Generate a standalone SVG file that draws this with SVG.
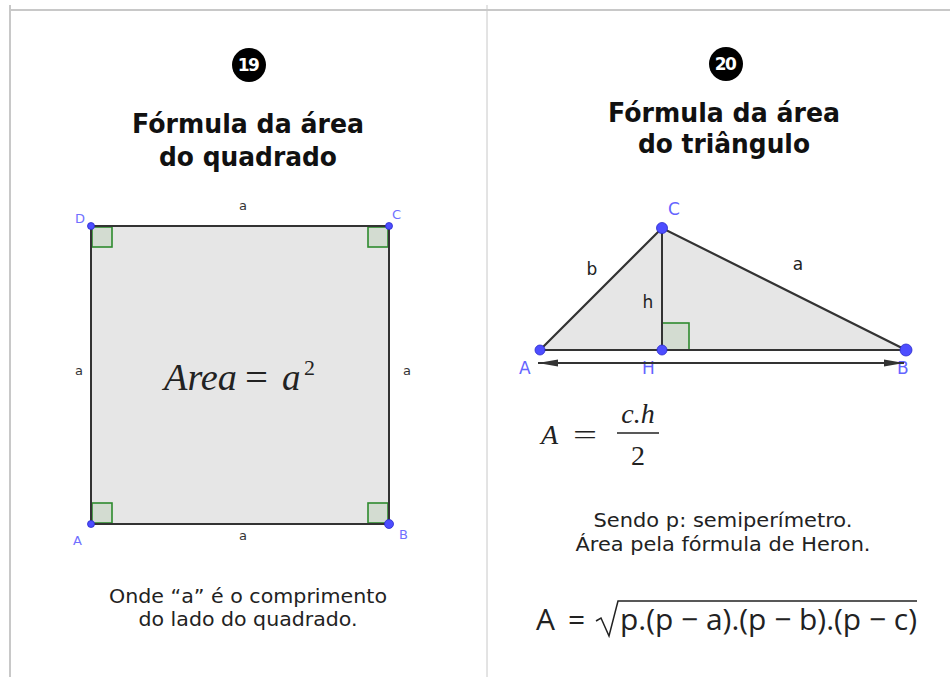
<svg xmlns="http://www.w3.org/2000/svg" width="950" height="677" viewBox="0 0 950 677">
<defs>
<style>
.title{font-family:"DejaVu Sans",Verdana,sans-serif;font-weight:bold;font-size:27px;fill:#111;text-anchor:middle}
.note{font-family:"DejaVu Sans",Verdana,sans-serif;font-size:19px;fill:#222;text-anchor:middle}
.badge{fill:#000}
.badgeT{font-family:"DejaVu Sans",sans-serif;font-weight:bold;font-size:17px;fill:#fff;text-anchor:middle;letter-spacing:-1.5px}
.shape{fill:#e6e6e6;stroke:none}
.edge{stroke:#333;stroke-width:2;fill:none}
.ra{fill:#d3dcd1;stroke:#2e8b2e;stroke-width:1.6}
.pt{fill:#4d4dff;stroke:#2a2acc;stroke-width:0.8}
.ptlab{font-family:"DejaVu Sans",sans-serif;font-size:13px;fill:#7070ff}
.ptlab2{font-family:"DejaVu Sans",sans-serif;font-size:17px;fill:#6464ff}
.side{font-family:"DejaVu Sans",sans-serif;font-size:13px;fill:#333}
.side2{font-family:"DejaVu Sans",sans-serif;font-size:17px;fill:#222}
.tex{font-family:"Liberation Serif","DejaVu Serif",serif;font-style:italic;fill:#222}
.texr{font-family:"Liberation Serif","DejaVu Serif",serif;fill:#222}
.heron{font-family:"Open Sans","DejaVu Sans",sans-serif;font-size:30px;fill:#222}
</style>
<marker id="ah" viewBox="0 0 20 8" refX="20" refY="4" markerWidth="20" markerHeight="8" orient="auto-start-reverse" markerUnits="userSpaceOnUse">
<path d="M0,0.5 L20,4 L0,7.5 z" fill="#333"/>
</marker>
</defs>
<rect width="950" height="677" fill="#fff"/>
<g id="frame" stroke="#c8c8c8" fill="none">
<line x1="10" y1="10" x2="950" y2="10" stroke-width="2"/>
<line x1="10" y1="5" x2="10" y2="677" stroke-width="2"/>
<line x1="487" y1="5" x2="487" y2="677" stroke-width="1"/>
</g>

<g id="panel19">
<g id="badge19"><circle class="badge" cx="249" cy="65" r="17"/><text class="badgeT" x="248" y="71">19</text></g>
<g id="title19"><text class="title" x="248" y="133" textLength="232" lengthAdjust="spacingAndGlyphs">Fórmula da área</text><text class="title" x="248" y="166" textLength="178" lengthAdjust="spacingAndGlyphs">do quadrado</text></g>
<g id="square">
<rect class="shape" x="91" y="226" width="298" height="298"/>
<rect class="ra" x="92" y="227" width="20" height="20"/>
<rect class="ra" x="368" y="227" width="20" height="20"/>
<rect class="ra" x="92" y="503" width="20" height="20"/>
<rect class="ra" x="368" y="503" width="20" height="20"/>
<rect x="91" y="226" width="298" height="298" fill="none" stroke="#333" stroke-width="2"/>
<circle class="pt" cx="91" cy="226" r="3.5"/>
<circle class="pt" cx="389" cy="226" r="3.5"/>
<circle class="pt" cx="91" cy="524" r="3.5"/>
<circle class="pt" cx="389" cy="524" r="4.5"/>
<text class="ptlab" x="75" y="223">D</text>
<text class="ptlab" x="392" y="219">C</text>
<text class="ptlab" x="73" y="545">A</text>
<text class="ptlab" x="399" y="539">B</text>
<text class="side" x="243" y="210" text-anchor="middle">a</text>
<text class="side" x="243" y="540" text-anchor="middle">a</text>
<text class="side" x="79" y="375" text-anchor="middle">a</text>
<text class="side" x="407" y="375" text-anchor="middle">a</text>
<g id="formula19">
<text class="tex" x="164" y="390" font-size="37" textLength="73" lengthAdjust="spacingAndGlyphs">Area</text>
<text class="texr" x="245" y="390" font-size="37" textLength="23" lengthAdjust="spacingAndGlyphs">=</text>
<text class="tex" x="282" y="390" font-size="37">a</text>
<text class="texr" x="304" y="375" font-size="22">2</text>
</g>
</g>
<g id="note19"><text class="note" x="248" y="603" textLength="278" lengthAdjust="spacingAndGlyphs">Onde “a” é o comprimento</text><text class="note" x="248" y="626" textLength="219" lengthAdjust="spacingAndGlyphs">do lado do quadrado.</text></g>
</g>

<g id="panel20">
<g id="badge20"><circle class="badge" cx="726" cy="64" r="17"/><text class="badgeT" x="725" y="70">20</text></g>
<g id="title20"><text class="title" x="724" y="122" textLength="232" lengthAdjust="spacingAndGlyphs">Fórmula da área</text><text class="title" x="724" y="153" textLength="172" lengthAdjust="spacingAndGlyphs">do triângulo</text></g>
<g id="triangle">
<polygon class="shape" points="540,350 662,228 906,350"/>
<rect class="ra" x="662" y="323" width="27" height="27"/>
<line class="edge" x1="662" y1="228" x2="662" y2="350"/>
<polygon points="540,350 662,228 906,350" fill="none" stroke="#333" stroke-width="2.2"/>
<circle class="pt" cx="662" cy="228" r="5.5"/>
<circle class="pt" cx="540" cy="350" r="5"/>
<circle class="pt" cx="662" cy="350" r="5"/>
<circle class="pt" cx="906" cy="350" r="6"/>
<text class="ptlab2" x="668" y="215">C</text>
<text class="ptlab2" x="519" y="374">A</text>
<text class="ptlab2" x="642" y="374">H</text>
<text class="ptlab2" x="897" y="374">B</text>
<text class="side2" x="592" y="275" text-anchor="middle">b</text>
<text class="side2" x="798" y="270" text-anchor="middle">a</text>
<text class="side2" x="648" y="308" text-anchor="middle">h</text>
</g>
<g id="connectors">
<line class="edge" x1="538" y1="363" x2="904" y2="363" stroke-width="2.4" marker-start="url(#ah)" marker-end="url(#ah)"/>
</g>
<g id="formula20">
<text class="tex" x="541" y="444" font-size="28">A</text>
<text class="texr" x="573" y="444" font-size="28" textLength="24" lengthAdjust="spacingAndGlyphs">=</text>
<text class="tex" x="638" y="423" font-size="28" text-anchor="middle">c.h</text>
<line x1="617" y1="433" x2="659" y2="433" stroke="#222" stroke-width="1.5"/>
<text class="texr" x="638" y="465" font-size="28" text-anchor="middle">2</text>
</g>
<g id="note20"><text class="note" x="723" y="527" textLength="259" lengthAdjust="spacingAndGlyphs">Sendo p: semiperímetro.</text><text class="note" x="723" y="551" textLength="295" lengthAdjust="spacingAndGlyphs">Área pela fórmula de Heron.</text></g>
<g id="heron">
<text class="heron" x="536" y="630">A</text>
<text class="heron" x="568" y="630">=</text>
<path d="M596,621 L601,618 L609,636 L618,601 L917,601" fill="none" stroke="#222" stroke-width="1.5"/>
<text class="heron" x="620" y="630" textLength="297" lengthAdjust="spacingAndGlyphs">p.(p − a).(p − b).(p − c)</text>
</g>
</g>
</svg>
